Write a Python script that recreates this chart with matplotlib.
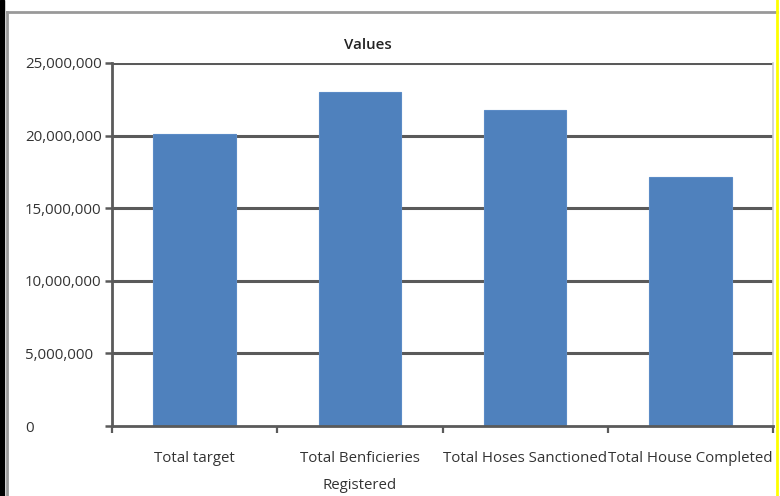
import matplotlib
matplotlib.use("Agg")
import matplotlib.pyplot as plt
from matplotlib.ticker import FuncFormatter, FixedLocator
from matplotlib.patches import Rectangle
from matplotlib.lines import Line2D

categories = ["Total target", "Total Benficieries\nRegistered",
              "Total Hoses Sanctioned", "Total House Completed"]
values = [20100000, 23000000, 21750000, 17150000]
yticks = [0, 5000000, 10000000, 15000000, 20000000, 25000000]

plt.rcParams['font.family'] = ['Open Sans', 'DejaVu Sans']

fig = plt.figure(figsize=(7.8, 4.96), dpi=100)
ax = fig.add_axes([112/780, 1-426/496, (773-112)/780, (426-63)/496])

grid_c = "#5a5a5a"
ax.set_ylim(0, 25000000)
ax.set_xlim(-0.5, 3.5)
ax.set_yticks(yticks)
for y in yticks[1:]:
    ax.axhline(y, color=grid_c, lw=2.2, zorder=1)

x = list(range(len(categories)))
ax.bar(x, values, width=0.5, color="#4f81bd", edgecolor="#5b8bc6", lw=0.8, zorder=2)

ax.yaxis.set_major_formatter(FuncFormatter(lambda v, p: f"{int(v):,}"))
ax.set_xticks(x)
ax.set_xticklabels(categories, linespacing=2.05)
ax.xaxis.set_minor_locator(FixedLocator([-0.5, 0.5, 1.5, 2.5, 3.5]))
ax.tick_params(axis='x', which='major', length=0, pad=18, labelsize=10.8, colors="#333333")
ax.tick_params(axis='x', which='minor', length=5, width=1.6, color=grid_c, direction='out')
ax.tick_params(axis='y', length=5, width=1.8, color=grid_c, direction='out',
               pad=(112 - 7 - 25) * 0.72, labelsize=10.8, labelcolor="#333333")
for lab in ax.get_yticklabels():
    lab.set_horizontalalignment('left')

for s in ['left', 'bottom']:
    ax.spines[s].set_color(grid_c)
    ax.spines[s].set_linewidth(2)
ax.spines['top'].set_visible(False)
ax.spines['right'].set_color("#cccccc")
ax.spines['right'].set_linewidth(1.2)

fig.text(368/780, 1-45/496, "Values", ha='center', va='center', fontsize=10.8,
         color="#222222", fontweight='semibold')

# outer frame decorations
fig.patches.append(Rectangle((0, 0), 4/780, 1, transform=fig.transFigure,
                             color="black", zorder=0))
fig.lines.append(Line2D([7/780, 7/780], [0, 1-12/496], transform=fig.transFigure,
                        color="#999999", lw=2))
fig.lines.append(Line2D([7/780, 777/780], [1-12/496, 1-12/496], transform=fig.transFigure,
                        color="#999999", lw=2))
fig.lines.append(Line2D([777/780, 777/780], [0, 1], transform=fig.transFigure,
                        color="#ffff00", lw=2))

fig.savefig("out.png", dpi=100)
